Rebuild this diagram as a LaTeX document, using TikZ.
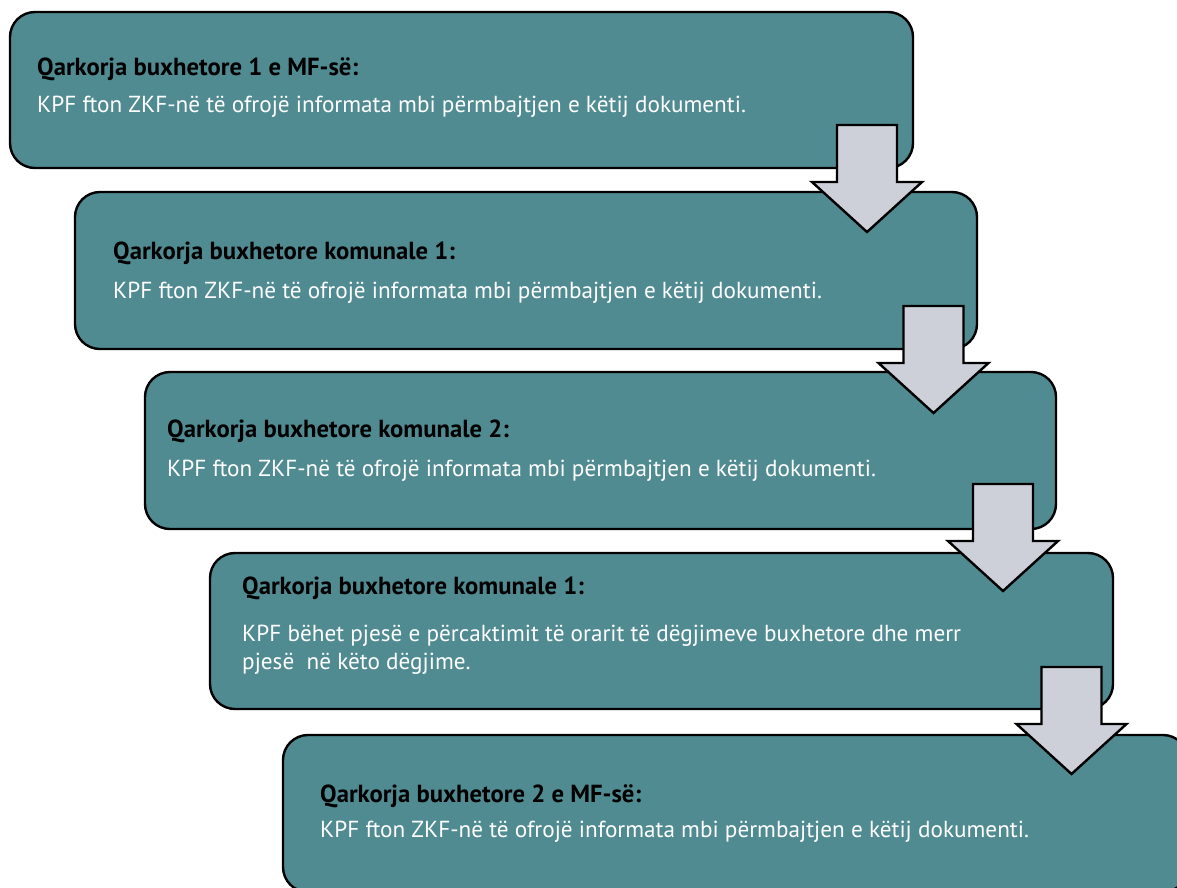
\documentclass[tikz,border=0pt]{standalone}
\usepackage{fontspec}
\setmainfont{PT Sans}
\definecolor{boxteal}{RGB}{81,139,146}
\definecolor{arrowgray}{RGB}{205,208,216}
\begin{document}
\begin{tikzpicture}[x=1pt,y=-1pt,
  stagebox/.style={draw=black, line width=2.4pt, fill=boxteal, rounded corners=25pt,
    rectangle, inner sep=0pt},
  head/.style={anchor=base west, inner sep=0pt, font=\fontsize{24.7}{28}\selectfont\bfseries, text=black},
  body/.style={anchor=base west, inner sep=0pt, font=\fontsize{23.2}{28}\selectfont, text=white},
  flowarrow/.pic={
    \draw[line width=2.4pt, line join=miter, fill=arrowgray]
      (-30,0) -- (30,0) -- (30,57) -- (55,57) -- (0,107) -- (-55,57) -- (-30,57) -- cycle;
  }]
\useasboundingbox (0,0) rectangle (1177,887);
\clip (0,0) rectangle (1177,887);

% stage boxes
\node[stagebox, minimum width=903pt, minimum height=156pt] (b1) at (461.5,90) {};
\node[stagebox, minimum width=902pt, minimum height=157pt] (b2) at (526,270.5) {};
\node[stagebox, minimum width=911pt, minimum height=157pt] (b3) at (600.5,450.5) {};
\node[stagebox, minimum width=903pt, minimum height=156pt] (b4) at (661.5,631) {};
\node[stagebox, minimum width=905pt, minimum height=157pt] (b5) at (735.5,813.5) {};

% step arrows between boxes
\pic at (867,125) {flowarrow};
\pic at (933.5,306) {flowarrow};
\pic at (1003,484) {flowarrow};
\pic at (1071.5,667) {flowarrow};

% texts
\node[head] (h1) at (37,75) {Qarkorja buxhetore 1 e MF-së:};
\node[body] (t1) at (37,112) {KPF fton ZKF-në të ofrojë informata mbi përmbajtjen e këtij dokumenti.};

\node[head] (h2) at (113,259) {Qarkorja buxhetore komunale 1:};
\node[body] (t2) at (113,298) {KPF fton ZKF-në të ofrojë informata mbi përmbajtjen e këtij dokumenti.};

\node[head] (h3) at (167,437) {Qarkorja buxhetore komunale 2:};
\node[body] (t3) at (167,476) {KPF fton ZKF-në të ofrojë informata mbi përmbajtjen e këtij dokumenti.};

\node[head] (h4) at (242,594) {Qarkorja buxhetore komunale 1:};
\node[body] (t4a) at (242,641) {KPF bëhet pjesë e përcaktimit të orarit të dëgjimeve buxhetore dhe merr};
\node[body] (t4b) at (242,669) {pjesë\ \ në këto dëgjime.};

\node[head] (h5) at (320,802) {Qarkorja buxhetore 2 e MF-së:};
\node[body] (t5) at (320,837) {KPF fton ZKF-në të ofrojë informata mbi përmbajtjen e këtij dokumenti.};
\end{tikzpicture}
\end{document}
